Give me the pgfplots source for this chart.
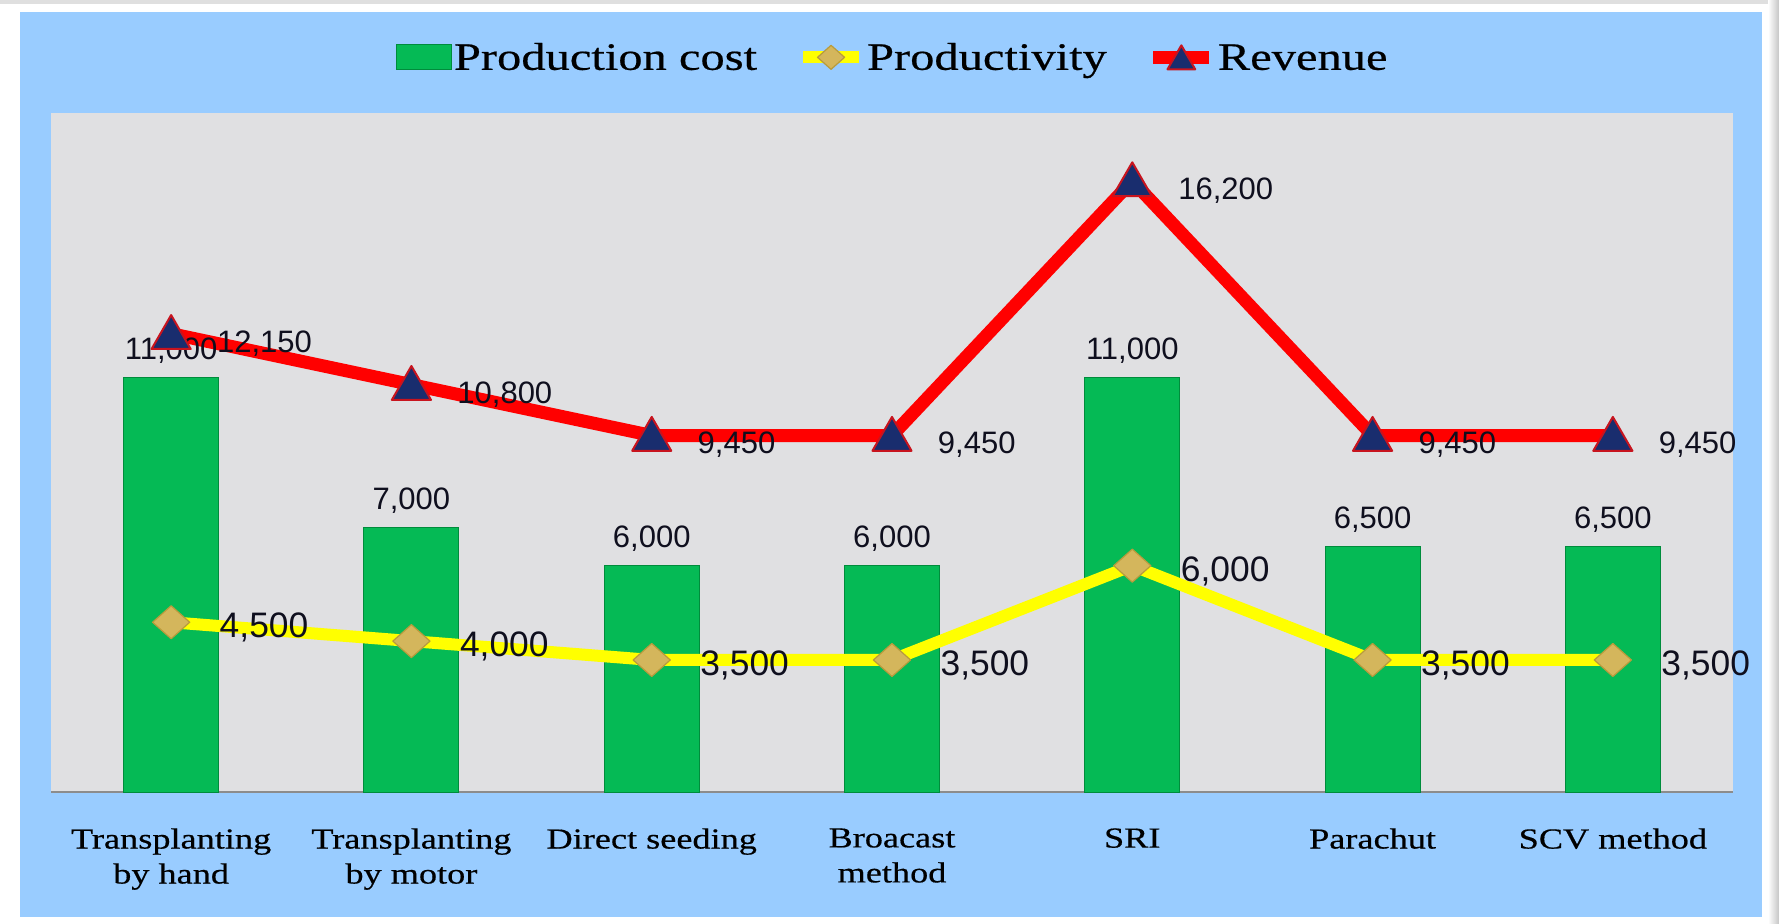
\documentclass[border=0pt]{standalone}
\usepackage{pgfplots}
\pgfplotsset{compat=1.18}
\usepackage{fontspec}
\setmainfont{Liberation Sans}
\newfontfamily\serifw[FakeStretch=1.25,FakeBold=0.5]{Liberation Serif}
\definecolor{bluebg}{RGB}{153,204,255}
\definecolor{graybg}{RGB}{224,224,226}
\definecolor{bargreen}{RGB}{5,186,85}
\definecolor{bardark}{RGB}{0,140,60}
\definecolor{gold}{RGB}{212,182,92}
\definecolor{golddark}{RGB}{185,155,60}
\definecolor{navy}{RGB}{25,45,110}
\definecolor{rededge}{RGB}{200,20,30}
\definecolor{axisgray}{RGB}{140,140,140}
\definecolor{yel}{RGB}{255,255,0}
\definecolor{labtxt}{RGB}{15,15,30}
\pgfplotsset{
  lineleg/.style={legend image code/.code={\draw[mark repeat=2, mark phase=2, ##1, mark size=#1] plot coordinates {(0pt,6.25pt) (14pt,6.25pt) (28pt,6.25pt)};}},
  barleg/.style={legend image code/.code={\fill[bargreen, draw=bardark] (0pt,0pt) rectangle (27.5pt,12.5pt);}},
}
\begin{document}
\begin{tikzpicture}
\fill[white] (0,0) rectangle (889.5pt,461.5pt);
\path[use as bounding box] (0,0) rectangle (889.5pt,461.5pt);
\fill[gray!25] (0,459.5pt) rectangle (889.5pt,461.5pt);
\shade[left color=white, right color=gray!45] (884pt,0) rectangle (889.5pt,461.5pt);
\fill[bluebg] (10pt,3pt) rectangle (881pt,455.5pt);
\begin{axis}[
  at={(25.5pt,65.5pt)}, anchor=south west,
  scale only axis, width=841pt, height=339.5pt,
  xmin=-0.5, xmax=6.5, ymin=0, ymax=18000,
  axis background/.style={fill=graybg},
  axis x line*=bottom, axis y line=none,
  x axis line style={draw=axisgray, line width=1.2pt},
  xtick={0,1,2,3,4,5,6},
  xticklabels={{Transplanting\\by hand},{Transplanting\\by motor},{Direct seeding},{Broacast\\method},{SRI},{Parachut},{SCV method}},
  xtick style={draw=none}, major tick length=0pt,
  ytick=\empty,
  xticklabel style={font=\serifw\fontsize{14.5}{17.5}\selectfont, align=center, anchor=north, inner sep=0pt, yshift=-18pt, text=black},
  clip=false,
  /pgf/number format/.cd, 1000 sep={,}, assume math mode=true, /pgfplots/.cd,
  legend columns=3,
  legend style={at={(0.2051,1.0812)}, anchor=west, draw=none, fill=none, inner sep=0pt, outer sep=0pt,
    font=\serifw\fontsize{19.4}{22}\selectfont, cells={anchor=base west}, nodes={inner sep=1pt},
    /tikz/every even column/.append style={column sep=19pt},
    /tikz/every odd column/.append style={column sep=0pt}},
]
\addplot[ybar, bar width=47.5pt, fill=bargreen, draw=bardark, line width=0.5pt,
  nodes near coords,
  nodes near coords style={font=\fontsize{15.5}{18}\selectfont, anchor=base, inner sep=0pt, yshift=9pt, text=labtxt},
  barleg]
  coordinates {(0,11000) (1,7000) (2,6000) (3,6000) (4,11000) (5,6500) (6,6500)};
\addlegendentry{Production cost}
\addplot[yel, line width=6pt, line join=round,
  mark=diamond*, mark size=8.25pt,
  mark options={solid, xscale=1.5, fill=gold, draw=golddark, line width=0.6pt},
  nodes near coords,
  nodes near coords style={font=\fontsize{17.7}{20}\selectfont, anchor=west, inner sep=0pt, xshift=24pt, yshift=-2.7pt, text=labtxt},
  lineleg=6pt]
  coordinates {(0,4500) (1,4000) (2,3500) (3,3500) (4,6000) (5,3500) (6,3500)};
\addlegendentry{Productivity}
\addplot[red, line width=6.5pt, line join=round,
  mark=triangle*, mark size=11.3pt,
  mark options={solid, fill=navy, draw=rededge, line width=1pt, yshift=-2pt},
  nodes near coords,
  nodes near coords style={font=\fontsize{15.5}{18}\selectfont, anchor=west, inner sep=0pt, xshift=22.5pt, yshift=-2.8pt, text=labtxt},
  lineleg=8pt]
  coordinates {(0,12150) (1,10800) (2,9450) (3,9450) (4,16200) (5,9450) (6,9450)};
\addlegendentry{Revenue}
\end{axis}
\end{tikzpicture}
\end{document}
